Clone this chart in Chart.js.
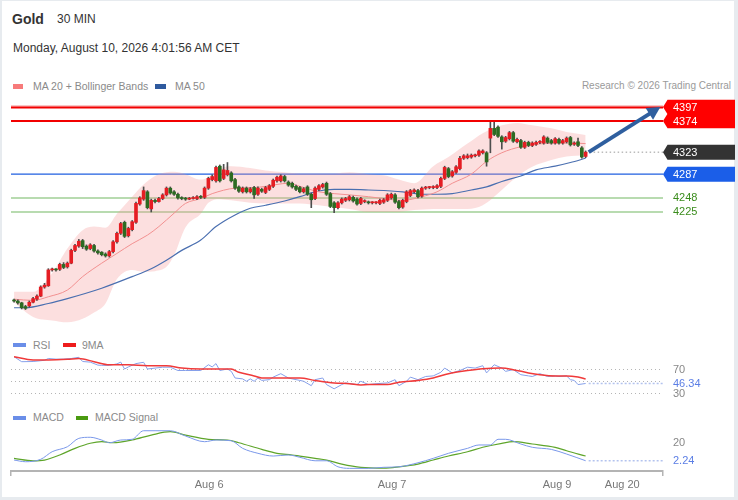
<!DOCTYPE html>
<html><head><meta charset="utf-8">
<script src="https://cdn.jsdelivr.net/npm/chart.js@4.4.1/dist/chart.umd.min.js"></script>
<style>
html,body{margin:0;padding:0;}
body{width:738px;height:500px;overflow:hidden;position:relative;background:#e7ebef;font-family:"Liberation Sans",Arial,sans-serif;}
#card{position:absolute;left:2px;top:1px;width:732px;height:496px;background:#fff;}
.t{position:absolute;white-space:nowrap;line-height:1;}
.sw{position:absolute;}
canvas{position:absolute;left:0;}
</style></head><body>
<div id="card"></div>
<div class="t" style="left:12px;top:12px;font-size:14px;font-weight:bold;color:#333">Gold</div>
<div class="t" style="left:57px;top:12.5px;font-size:12px;color:#333">30 MIN</div>
<div class="t" style="left:13px;top:42px;font-size:12px;color:#333">Monday, August 10, 2026 4:01:56 AM CET</div>

<div class="sw" style="left:13px;top:84px;width:10px;height:5px;background:#f77b7b"></div>
<div class="t" style="left:33px;top:81px;font-size:10.5px;color:#8a8a8a">MA 20 + Bollinger Bands</div>
<div class="sw" style="left:155px;top:84px;width:11px;height:5px;background:#2f5a9e"></div>
<div class="t" style="left:175px;top:81px;font-size:10.5px;color:#8a8a8a">MA 50</div>
<div class="t" style="right:7px;top:81px;font-size:10px;color:#9a9a9a">Research © 2026 Trading Central</div>

<div class="sw" style="left:13px;top:342.5px;width:13px;height:4px;background:#6a8ee8"></div>
<div class="t" style="left:33px;top:339.5px;font-size:10.5px;color:#8a8a8a">RSI</div>
<div class="sw" style="left:63px;top:342.5px;width:13px;height:4px;background:#ee1c1c"></div>
<div class="t" style="left:82px;top:339.5px;font-size:10.5px;color:#8a8a8a">9MA</div>

<div class="sw" style="left:13px;top:415.5px;width:13px;height:4px;background:#6a8ee8"></div>
<div class="t" style="left:33px;top:412px;font-size:10.5px;color:#8a8a8a">MACD</div>
<div class="sw" style="left:76px;top:415.5px;width:12px;height:4px;background:#4a9a10"></div>
<div class="t" style="left:95px;top:412px;font-size:10.5px;color:#8a8a8a">MACD Signal</div>

<canvas id="main" width="738" height="235" style="top:95px"></canvas>
<canvas id="rsi" width="738" height="50" style="top:350px"></canvas>
<canvas id="macd" width="738" height="80" style="top:420px"></canvas>

<script>
// ---------- DATA ----------
const opens = [4080,4079,4076,4070,4071,4077,4082,4087,4102,4104,
4130,4131,4131,4139,4135,4141,4162,4169,4178,4169,
4165,4170,4161,4159,4156,4153,4160,4176,4190,4208,
4186,4196,4208,4238,4246,4258,4230,4244,4242,4247,
4253,4264,4258,4254,4248,4247,4246,4247,4247,4250,
4249,4264,4278,4276,4300,4280,4286,4289,4278,4266,
4258,4264,4258,4265,4254,4262,4257,4262,4267,4276,
4276,4283,4274,4272,4267,4265,4258,4266,4254,4247,
4262,4266,4272,4255,4240,4232,4240,4244,4245,4249,
4246,4239,4242,4241,4240,4240,4239,4241,4244,4248,
4253,4242,4233,4242,4252,4258,4260,4251,4264,4265,
4265,4265,4267,4280,4296,4284,4290,4296,4313,4314,
4315,4317,4318,4322,4322,4346,4362,4364,4348,4341,
4345,4355,4340,4342,4331,4339,4334,4336,4339,4338,
4346,4342,4338,4344,4338,4340,4347,4336,4340,4330,
4316];
const highs = [4082,4081,4077,4072,4079,4085,4089,4104,4108,4132,
4133,4132,4141,4142,4143,4164,4172,4180,4180,4171,
4173,4172,4163,4160,4158,4162,4178,4192,4208,4210,
4200,4211,4241,4250,4266,4260,4246,4246,4249,4255,
4266,4266,4260,4256,4250,4249,4249,4250,4252,4252,
4266,4282,4286,4300,4302,4303,4306,4291,4280,4268,
4266,4266,4265,4267,4266,4264,4267,4270,4279,4284,
4286,4285,4276,4274,4269,4267,4265,4268,4256,4266,
4270,4272,4274,4257,4242,4242,4248,4249,4252,4251,
4248,4249,4245,4243,4242,4242,4246,4247,4255,4256,
4255,4244,4246,4260,4262,4263,4262,4266,4267,4267,
4268,4270,4282,4300,4298,4293,4301,4316,4319,4320,
4320,4320,4327,4327,4324,4372,4374,4366,4350,4349,
4357,4357,4346,4344,4341,4341,4340,4341,4342,4350,
4348,4344,4347,4346,4344,4348,4349,4340,4346,4332,
4325];
const lows = [4077,4074,4066,4065,4069,4076,4080,4086,4100,4103,
4128,4128,4129,4132,4133,4140,4160,4167,4165,4162,
4163,4159,4156,4153,4151,4151,4158,4174,4188,4183,
4184,4194,4206,4236,4244,4230,4225,4240,4241,4245,
4251,4254,4252,4246,4245,4244,4245,4246,4245,4247,
4247,4262,4276,4274,4274,4278,4284,4274,4262,4257,
4256,4256,4256,4247,4252,4257,4255,4260,4265,4274,
4274,4274,4267,4264,4260,4256,4256,4252,4232,4245,
4260,4264,4252,4232,4224,4230,4238,4242,4243,4241,
4236,4237,4240,4238,4238,4238,4237,4239,4242,4246,
4239,4230,4231,4240,4250,4256,4248,4249,4262,4263,
4263,4263,4265,4278,4281,4282,4288,4294,4311,4312,
4313,4315,4316,4320,4300,4322,4350,4347,4328,4339,
4343,4339,4338,4329,4329,4332,4332,4334,4337,4336,
4337,4336,4336,4336,4336,4338,4333,4334,4332,4313,
4314];
const closes = [4079,4076,4068,4067,4077,4083,4087,4102,4105,4130,
4131,4130,4139,4134,4141,4162,4170,4177,4168,4164,
4171,4161,4158,4155,4153,4160,4176,4190,4206,4185,
4198,4209,4239,4248,4260,4232,4244,4242,4247,4253,
4264,4256,4254,4248,4247,4246,4247,4248,4250,4249,
4264,4280,4283,4298,4276,4294,4293,4276,4264,4259,
4264,4258,4263,4253,4264,4259,4265,4268,4277,4282,
4284,4276,4269,4266,4262,4258,4263,4254,4245,4264,
4268,4270,4254,4234,4232,4240,4246,4247,4250,4243,
4238,4247,4243,4240,4240.5,4240,4244,4245,4253,4254,
4241,4232,4244,4258,4260,4261,4250,4264,4265,4265.5,
4266,4268,4280,4298,4283,4291,4299,4313,4317,4317,
4318,4318,4325,4325,4307,4362,4352,4349,4340,4347,
4355,4341,4344,4331,4339,4334,4338,4339,4340,4348,
4339,4338,4345,4338,4342,4346,4335,4338,4334,4315,
4323];

// Moving averages and Bollinger bands (candle index -> price)
const ma20Idx = [0,5,9,14,18,23,27,31,35,38,42,45,49,52,58,63,66,72,75,80,84,88,93,102,107,111,115,120,124,128,133,137,142,146,150];
const ma20Val = [4082,4080,4086,4097,4119,4141,4157,4173,4187,4201,4223,4239,4247,4255,4264,4265,4267,4272,4267,4258,4255,4253,4250,4244,4250,4258,4272,4287,4308,4322,4332,4336,4338,4338,4337];
const ma50Idx = [0,3,9,14,23,31,36,40,44,49,53,58,62,66,71,75,79,84,88,93,102,107,111,115,120,124,128,133,137,142,146,150];
const ma50Val = [4068,4068,4075,4083,4100,4119,4132,4146,4162,4179,4201,4220,4231,4236,4243,4250,4258,4262,4262,4261,4258,4254,4254,4255,4261,4266,4275,4284,4294,4300,4306,4313];
const bandIdx = [0,5,10,14,18,21,24,27,31,34,37,40,42,45,49,51,54,57,62,66,71,75,80,84,88,93,97,101,105,110,114,119,123,128,132,136,141,145,150];
const bandUpper = [4094,4094,4125,4165,4195,4201,4199,4222,4250,4270,4284,4290,4291,4287,4278,4282,4296,4300,4297,4293,4290,4288,4288,4288,4290,4287,4285,4278,4272,4300,4315,4337,4354,4367,4371,4367,4362,4356,4351];
const bandLower = [4077,4053,4047,4044,4050,4060,4075,4115,4130,4127,4128,4135,4154,4200,4222,4240,4246,4244,4240,4239,4239,4239,4236,4233,4230,4225,4225,4225,4228,4230,4230,4230,4236,4261,4283,4299,4310,4316,4318];

// Levels
const resistanceLevels = [4397, 4374];
const pivotLevel = 4287;
const supportLevels = [4248, 4225];
const lastPrice = 4323;
const arrowFrom = {x: 150.8, y: 4323};
const arrowTo = {x: 169.6, y: 4397};

// RSI panel
const rsiIdx = [0,2,5,8,9,11,13,15,17,18,20,22,23,25,27,28,29,30,32,34,35,37,39,41,43,45,49,51,52,53,54,56,57,58,60,61,62,63,64,65,67,68,70,72,73,75,76,78,79,81,82,84,86,87,90,91,93,95,98,100,101,103,104,106,108,110,112,113,115,117,119,121,123,124,126,128,129,131,133,135,136,138,140,142,143,145,146,147,148,150];
const rsiVal = [91,82.7,83,85,88,87,87,88,90,83,82,77,76.6,76.6,79,82,70.5,74,79.5,81.7,70.5,72,73.5,73.5,68,68,68,77.6,74,79.5,68,70.5,66.6,55.5,54,50,54,50,55.5,51.5,52.7,57,62.7,55.5,54,51.5,50,42.7,52.7,55.5,44.5,37.5,44.5,47.3,44.5,50,44.5,46,47.3,52.7,42.7,50,57,52.7,58,59,65,72,64,68,73.5,72,76,64,77.6,72,66.6,69.4,61,59,58,62.7,58,59,58,59,52.7,51.5,44.5,46.34];
const rsiMaIdx = [0,5,9,14,17,21,25,30,35,40,44,49,53,57,59,63,65,69,72,75,79,84,88,91,93,98,101,106,110,114,119,123,128,131,135,138,142,145,148,150];
const rsiMaVal = [91,85.5,85.5,86.6,88,82.7,77.6,77.6,76,76,72,70.5,70.5,70.5,65,59,55.5,55.5,55.5,55.5,51.5,47.3,46,44,44.5,44.5,48.5,51.5,55.5,62.7,68,71,72,69.4,64,61,59,59,57,53.8];
const rsiTicks = [30, 50, 70];
const rsiTickLabels = ['30', '', '70'];
const rsiLastLabel = '46.34';

// MACD panel
const macdIdx = [0,3,7,10,14,17,20,23,25,28,31,34,37,41,45,50,53,57,60,64,68,72,75,79,82,85,88,93,97,101,106,110,114,119,122,125,127,129,133,136,141,145,150];
const macdVal = [2.9,1.3,3.6,10.8,15.5,23.5,24.5,21.9,19.3,21.9,22.6,30.7,30.7,30.7,25.7,20.3,21.9,21.2,14,9.3,6.7,7.7,5.5,2.2,2.2,-3.5,-5,-5,-4,-3.5,0.3,4.5,9.3,14,17.2,17.2,22.6,22.6,18.1,15,13,8.6,2.24];
const signalIdx = [0,5,8,12,16,20,23,26,31,36,41,45,51,56,59,65,69,73,75,79,82,86,91,97,101,106,110,114,119,123,128,131,136,142,145,150];
const signalVal = [4.5,2.2,2.9,7.7,14,18.8,20.3,19.3,21.9,26.6,29.8,26.6,22.6,21.9,19.3,13,9.3,7.7,6.6,4.5,2.9,-0.9,-4,-4.7,-3.5,-0.9,2.9,6.7,10.8,15,18.8,20.3,18.1,15,11.7,6.7];
const macdTicks = [20];
const macdTickLabels = ['20'];
const macdLastLabel = '2.24';

// Time axis
const xTickLabels = ['Aug 6', 'Aug 7', 'Aug 9', 'Aug 20'];
const xTickPos = [51.2, 99.2, 142.5, 159.6];
const xMin = -0.8, xMax = 170.3;

// ---------- DRAWING ----------
const FONT = "'Liberation Sans', Arial, sans-serif";
Chart.defaults.font.family = FONT;
const UP = '#e51d23', DOWN = '#2c6b22';
const pts = (xs, ys) => xs.map((x, k) => ({x: x, y: ys[k]}));
const wicks = opens.map((o, i) => ({x: i, y: [lows[i], highs[i]]}));
const bodies = opens.map((o, i) => ({x: i, y: [Math.min(o, closes[i]), Math.max(o, closes[i])]}));
const bodyColors = opens.map((o, i) => closes[i] >= o ? UP : DOWN);
const AXIS_W = 75, PAD_L = 11, LABEL_X = 673;

function hline(ctx, left, right, py, color, w, dash) {
  ctx.beginPath();
  ctx.strokeStyle = color; ctx.lineWidth = w;
  ctx.setLineDash(dash || []);
  ctx.moveTo(left, py); ctx.lineTo(right, py); ctx.stroke();
  ctx.setLineDash([]);
}
function tag(ctx, x0, x1, py, h, color, text) {
  ctx.fillStyle = color;
  ctx.beginPath();
  ctx.moveTo(x0, py);
  ctx.lineTo(x0 + 4.5, py - h / 2);
  ctx.lineTo(x1, py - h / 2);
  ctx.lineTo(x1, py + h / 2);
  ctx.lineTo(x0 + 4.5, py + h / 2);
  ctx.closePath(); ctx.fill();
  ctx.fillStyle = '#fff';
  ctx.fillText(text, LABEL_X, py + 0.5);
}

const mainPlugin = {
  id: 'mainDecor',
  beforeDatasetsDraw(chart) {
    const {ctx, chartArea: {left, right}, scales: {y}} = chart;
    ctx.save();
    supportLevels.forEach(v => hline(ctx, left, right, y.getPixelForValue(v), '#b8dbb0', 2));
    hline(ctx, left, right, y.getPixelForValue(pivotLevel), '#1f5fe0', 1.2);
    ctx.restore();
  },
  afterDatasetsDraw(chart) {
    const {ctx, chartArea: {left, right}, scales: {x, y}} = chart;
    ctx.save();
    const r0 = y.getPixelForValue(resistanceLevels[0]);
    hline(ctx, left, right, r0 - 1, '#f7b3b3', 1.5);
    hline(ctx, left, right, r0 + 0.5, '#f20000', 2);
    hline(ctx, left, right, y.getPixelForValue(resistanceLevels[1]), '#f20000', 2);
    const lp = y.getPixelForValue(lastPrice);
    hline(ctx, x.getPixelForValue(closes.length - 1) + 4, right, lp, '#9a9a9a', 1, [1.5, 2.5]);
    const ax0 = x.getPixelForValue(arrowFrom.x), ay0 = y.getPixelForValue(arrowFrom.y);
    const ax1 = x.getPixelForValue(arrowTo.x), ay1 = y.getPixelForValue(arrowTo.y);
    const ang = Math.atan2(ay1 - ay0, ax1 - ax0);
    const hl = 13, hw = 7;
    const bx = ax1 - hl * Math.cos(ang), by = ay1 - hl * Math.sin(ang);
    ctx.strokeStyle = '#2f5f9f'; ctx.fillStyle = '#2f5f9f';
    ctx.lineWidth = 4; ctx.lineCap = 'butt';
    ctx.beginPath(); ctx.moveTo(ax0, ay0); ctx.lineTo(bx + Math.cos(ang), by + Math.sin(ang)); ctx.stroke();
    ctx.beginPath();
    ctx.moveTo(ax1, ay1);
    ctx.lineTo(bx + hw * Math.sin(ang), by - hw * Math.cos(ang));
    ctx.lineTo(bx - hw * Math.sin(ang), by + hw * Math.cos(ang));
    ctx.closePath(); ctx.fill();
    ctx.font = '11px ' + FONT;
    ctx.textBaseline = 'middle'; ctx.textAlign = 'left';
    const x0 = right, x1 = 735, h = 14.5;
    tag(ctx, x0, x1, r0, h, '#ff0000', String(resistanceLevels[0]));
    tag(ctx, x0, x1, y.getPixelForValue(resistanceLevels[1]), h, '#ff0000', String(resistanceLevels[1]));
    tag(ctx, x0, x1, lp, 15, '#333333', String(lastPrice));
    tag(ctx, x0, x1, y.getPixelForValue(pivotLevel), 15, '#1b5ee8', String(pivotLevel));
    ctx.fillStyle = '#3a8c1c';
    supportLevels.forEach(v => ctx.fillText(String(v), LABEL_X, y.getPixelForValue(v) + 0.5));
    ctx.restore();
  }
};

new Chart(document.getElementById('main'), {
  type: 'bar',
  data: {
    datasets: [
      {type: 'line', data: pts(bandIdx, bandUpper), fill: '+1', backgroundColor: 'rgba(246,150,150,0.3)', borderColor: 'rgba(0,0,0,0)', borderWidth: 1, pointRadius: 0, cubicInterpolationMode: 'monotone', order: 10},
      {type: 'line', data: pts(bandIdx, bandLower), fill: false, borderColor: 'rgba(0,0,0,0)', borderWidth: 1, pointRadius: 0, cubicInterpolationMode: 'monotone', order: 10},
      {type: 'line', data: pts(ma50Idx, ma50Val), borderColor: '#4a6fb0', borderWidth: 1.2, pointRadius: 0, fill: false, cubicInterpolationMode: 'monotone', order: 8},
      {type: 'line', data: pts(ma20Idx, ma20Val), borderColor: '#f29090', borderWidth: 1, pointRadius: 0, fill: false, cubicInterpolationMode: 'monotone', order: 7},
      {type: 'bar', data: wicks, backgroundColor: '#4d4d4d', barThickness: 1, grouped: false, order: 2},
      {type: 'bar', data: bodies, backgroundColor: bodyColors, barThickness: 3, grouped: false, minBarLength: 1, order: 1}
    ]
  },
  options: {
    responsive: false, animation: false, events: [],
    layout: {padding: {left: PAD_L, right: AXIS_W, top: 0, bottom: 0}},
    plugins: {legend: {display: false}, tooltip: {enabled: false}},
    scales: {
      x: {type: 'linear', min: xMin, max: xMax, offset: false, display: false},
      y: {type: 'linear', min: 4031.5, max: 4416.7, beginAtZero: false, display: false}
    }
  },
  plugins: [mainPlugin]
});

// right-side value labels for the indicator panels (tick labels at tick values + last-value marker)
function panelLabels(tickVals, tickLabels, idxArr, value, label) {
  return {
    id: 'panelLabels',
    afterDraw(chart) {
      const {ctx, chartArea: {right}, scales: {x, y}} = chart;
      ctx.save();
      ctx.font = '11px ' + FONT;
      ctx.textBaseline = 'middle'; ctx.textAlign = 'left';
      ctx.fillStyle = '#888';
      tickVals.forEach((v, k) => { if (tickLabels[k]) ctx.fillText(tickLabels[k], LABEL_X, y.getPixelForValue(v) + 0.5); });
      const py = y.getPixelForValue(value);
      hline(ctx, x.getPixelForValue(idxArr[idxArr.length - 1]) + 3, right, py, '#b3c3ef', 1.5, [2, 2]);
      ctx.fillStyle = '#fff';
      ctx.fillRect(LABEL_X - 1, py - 5, 30, 10);
      ctx.fillStyle = '#5b7ee5';
      ctx.fillText(label, LABEL_X, py + 0.5);
      ctx.restore();
    }
  };
}

new Chart(document.getElementById('rsi'), {
  type: 'line',
  data: {
    datasets: [
      {data: pts(rsiIdx, rsiVal), borderColor: '#86a0ea', borderWidth: 1, pointRadius: 0, tension: 0, order: 2},
      {data: pts(rsiMaIdx, rsiMaVal), borderColor: '#f03a3a', borderWidth: 1.5, pointRadius: 0, cubicInterpolationMode: 'monotone', order: 1}
    ]
  },
  options: {
    responsive: false, animation: false, events: [],
    layout: {padding: {left: PAD_L, right: 0, top: 0, bottom: 0}},
    plugins: {legend: {display: false}, tooltip: {enabled: false}},
    scales: {
      x: {type: 'linear', min: xMin, max: xMax, offset: false, display: false},
      y: {
        position: 'right', min: 18.8, max: 102.2, beginAtZero: false,
        afterBuildTicks: s => { s.ticks = rsiTicks.map(v => ({value: v})); },
        afterFit: s => { s.width = AXIS_W; },
        ticks: {display: false},
        grid: {color: '#b5b5b5', lineWidth: 1, drawTicks: false},
        border: {display: false, dash: [1, 3]}
      }
    }
  },
  plugins: [panelLabels(rsiTicks, rsiTickLabels, rsiIdx, rsiVal[rsiVal.length - 1], rsiLastLabel)]
});

new Chart(document.getElementById('macd'), {
  type: 'line',
  data: {
    datasets: [
      {data: pts(macdIdx, macdVal), borderColor: '#7a98ea', borderWidth: 1, pointRadius: 0, cubicInterpolationMode: 'monotone', order: 1},
      {data: pts(signalIdx, signalVal), borderColor: '#5ea52a', borderWidth: 1.2, pointRadius: 0, cubicInterpolationMode: 'monotone', order: 2}
    ]
  },
  options: {
    responsive: false, animation: false, events: [],
    layout: {padding: {left: PAD_L, right: 0, top: 0, bottom: 0}},
    plugins: {legend: {display: false}, tooltip: {enabled: false}},
    scales: {
      x: {
        type: 'linear', min: xMin, max: xMax, offset: false,
        afterBuildTicks: s => { s.ticks = [{value: xMin}].concat(xTickPos.map(v => ({value: v})), [{value: xMax}]); },
        afterFit: s => { s.height = 29; },
        ticks: {autoSkip: false, maxRotation: 0, padding: 2, color: '#777', font: {size: 11},
          callback: v => { const k = xTickPos.indexOf(v); return k >= 0 ? xTickLabels[k] : ''; }},
        grid: {drawOnChartArea: false, drawTicks: true, tickLength: 5, lineWidth: 1.5,
          color: c => (c.tick && (c.tick.value === xMin || c.tick.value === xMax)) ? '#b4b4b4' : 'rgba(0,0,0,0)'},
        border: {display: true, color: '#b4b4b4', width: 2}
      },
      y: {
        position: 'right', min: -7.5, max: 40.9, beginAtZero: false,
        afterBuildTicks: s => { s.ticks = macdTicks.map(v => ({value: v})); },
        afterFit: s => { s.width = AXIS_W; },
        ticks: {display: false},
        grid: {display: false, drawTicks: false},
        border: {display: false}
      }
    }
  },
  plugins: [panelLabels(macdTicks, macdTickLabels, macdIdx, macdVal[macdVal.length - 1], macdLastLabel)]
});
</script>
</body></html>
